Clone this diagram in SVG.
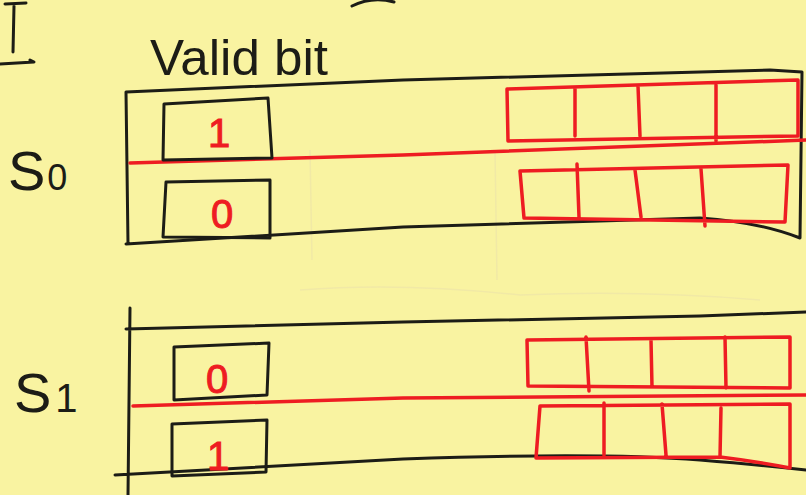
<svg xmlns="http://www.w3.org/2000/svg" width="806" height="495" viewBox="0 0 806 495">
<style>
.k{fill:none;stroke:#1c1c16;stroke-width:3;stroke-linecap:round;stroke-linejoin:round}
.r{fill:none;stroke:#ee1c22;stroke-width:3.5;stroke-linecap:round;stroke-linejoin:round}
.hand{font-family:"Liberation Sans","DejaVu Sans",sans-serif;fill:#1c1c16}
.bit{font-family:"Liberation Sans","DejaVu Sans",sans-serif;fill:#ee1c22;stroke:#ee1c22;stroke-width:1;font-size:40px;text-anchor:middle}
.faint{fill:none;stroke:#f1e9a6;stroke-width:1.5}
</style>
<rect width="806" height="495" fill="#f9f3a1"/>
<g id="paper-marks">
<path class="faint" d="M310 150 L312 260 M495 150 L497 280 M300 290 Q400 282 520 295 Q640 290 760 300"/>
</g>
<g id="header">
<path class="k" d="M5 4 L26 3 M14 6 L13 52 M0 64 L34 62 L30 60"/>
<path class="k" d="M352 6 Q372 -4 394 2"/>
<text class="hand" x="150" y="75" font-size="50" textLength="178" lengthAdjust="spacingAndGlyphs">Valid bit</text>
</g>
<g id="set-s0">
<text class="hand" x="8" y="190" font-size="56">S<tspan font-size="36" dx="2">0</tspan></text>
<path class="k" d="M126 92 L403 80 L700 72 L770 70 L802 72 L800 238 Q760 222 700 218 L403 227 L126 244 M126 92 L128 244"/>
<path class="r" d="M130 163 L403 155 L806 140"/>
<g id="s0-valid-1">
<path class="k" d="M164 104 L268 98 L272 158 L163 160 Z"/>
<text class="bit" x="219" y="147">1</text>
</g>
<g id="s0-valid-0">
<path class="k" d="M166 182 L270 180 L270 238 L163 237 Z"/>
<text class="bit" x="222" y="228">0</text>
</g>
<g id="s0-block-0">
<path class="r" d="M507 89 L798 80 L798 136 L508 141 Z M575 88 L575 136 M638 86 L640 136 M716 85 L716 141"/>
</g>
<g id="s0-block-1">
<path class="r" d="M520 171 L788 165 L785 222 L524 218 Z M577 164 L579 217 M635 170 L641 217 M701 169 L705 226"/>
</g>
</g>
<g id="set-s1">
<text class="hand" x="14" y="412" font-size="56">S<tspan font-size="40" dx="4">1</tspan></text>
<path class="k" d="M126 329 L403 322 L700 316 L806 312 M115 475 L403 459 Q600 452 700 460 Q760 465 806 470 M130 308 L128 495"/>
<path class="r" d="M133 406 L403 398 L806 395"/>
<g id="s1-valid-0">
<path class="k" d="M174 347 L269 343 L267 395 L174 400 Z"/>
<text class="bit" x="217" y="393">0</text>
</g>
<g id="s1-valid-1">
<path class="k" d="M172 424 L267 420 L266 472 L172 476 Z"/>
<text class="bit" x="218" y="470">1</text>
</g>
<g id="s1-block-0">
<path class="r" d="M527 340 L790 337 L790 388 L528 386 Z M586 337 L589 391 M651 340 L652 387 M725 337 L726 388"/>
</g>
<g id="s1-block-1">
<path class="r" d="M540 406 L790 404 L790 468 Q760 462 720 457 L536 458 Z M604 403 L604 455 M662 404 L666 455 M721 408 L720 457"/>
</g>
</g>
</svg>
